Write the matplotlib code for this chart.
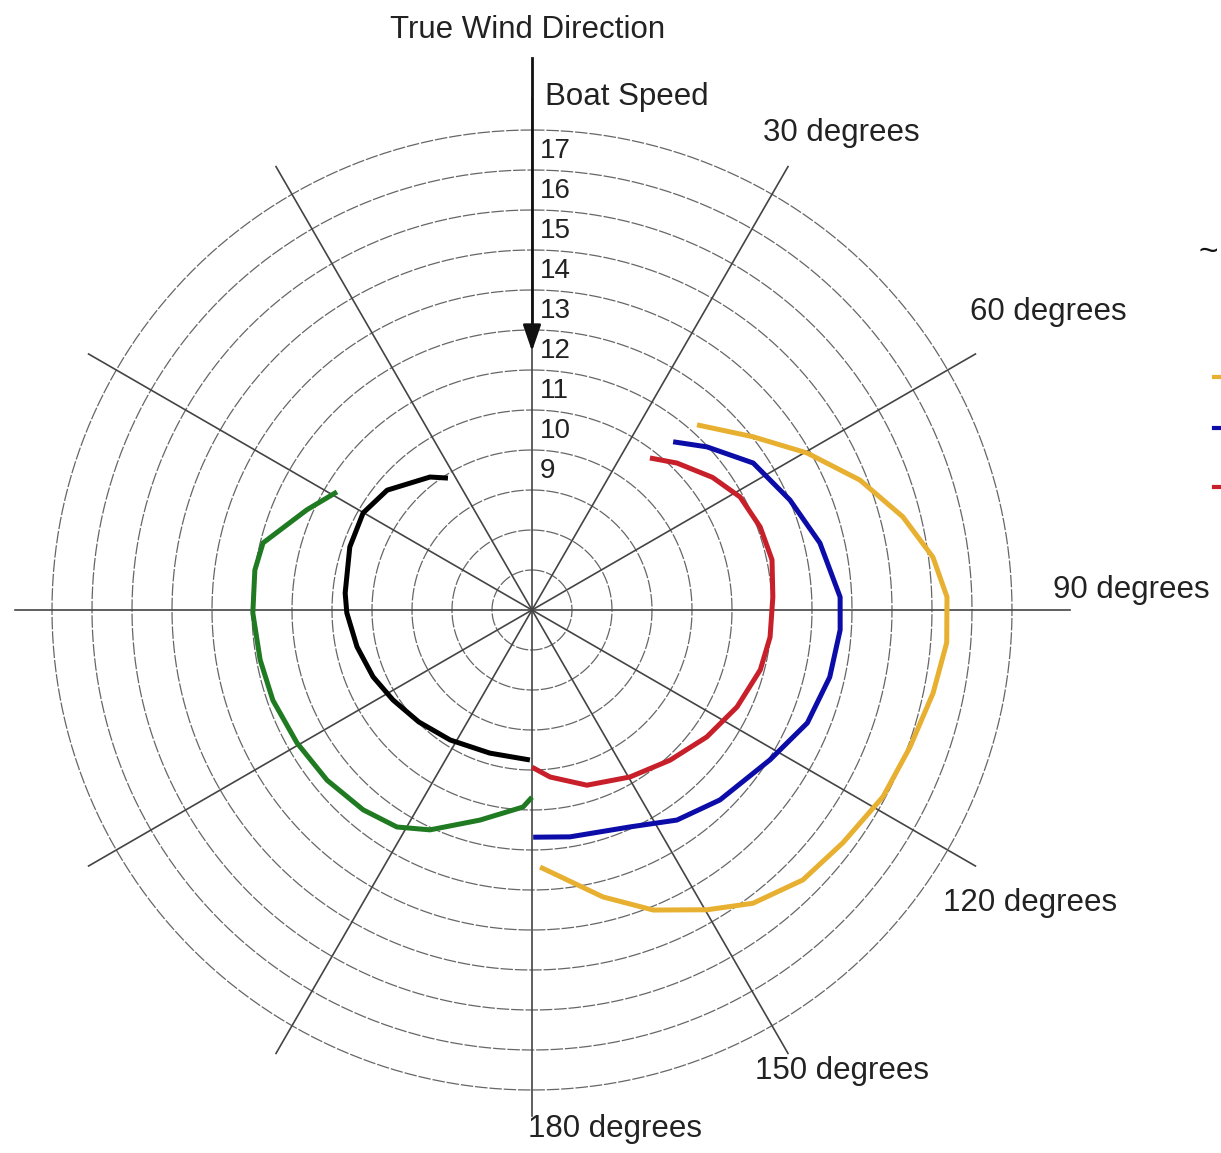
import numpy as np
import matplotlib
matplotlib.use("Agg")
import matplotlib.pyplot as plt
from matplotlib.lines import Line2D

plt.rcParams['font.family'] = ['Liberation Sans', 'DejaVu Sans']

# ---- data (angle from true wind in degrees, boat speed in knots) ----
black_theta = [327.5, 322.5, 309.6, 299.9, 289.1, 275.2, 269.1, 258.1, 247.2, 237.1, 225.3, 212.2, 196.4, 180.8]
black_speed = [8.91, 9.19, 9.70, 9.87, 9.82, 9.69, 9.63, 9.47, 9.31, 9.14, 8.98, 8.84, 8.73, 8.75]

green_theta = [301.2, 294.0, 284.0, 278.2, 269.4, 259.6, 250.8, 240.5, 230.3, 220.2, 211.9, 204.9, 193.9, 182.6, 180.0]
green_speed = [10.70, 11.16, 11.93, 12.00, 11.98, 11.91, 11.86, 11.75, 11.66, 11.54, 11.39, 11.06, 10.41, 9.93, 9.68]

red_theta = [37.8, 44.6, 53.7, 61.5, 70.0, 78.2, 86.9, 96.5, 104.7, 115.3, 126.0, 137.4, 149.6, 162.6, 173.8, 180.0]
red_speed = [9.81, 10.16, 10.60, 10.92, 11.07, 11.13, 11.03, 10.99, 10.90, 10.67, 10.40, 10.10, 9.84, 9.59, 9.20, 8.93]

blue_theta = [40.0, 47.0, 56.4, 66.9, 76.9, 87.6, 93.7, 102.7, 112.3, 122.2, 135.3, 145.4, 155.7, 170.5, 179.7]
blue_speed = [10.49, 10.98, 11.64, 12.01, 12.39, 12.71, 12.72, 12.63, 12.44, 12.03, 11.68, 11.38, 10.95, 10.75, 10.68]

orange_theta = [41.7, 51.9, 60.3, 68.4, 75.9, 82.5, 88.2, 94.5, 101.7, 110.0, 118.0, 126.8, 134.9, 143.0, 149.7, 158.0, 166.1, 178.2]
orange_speed = [11.20, 12.02, 12.92, 13.82, 14.56, 15.11, 15.38, 15.40, 15.24, 15.05, 14.94, 14.71, 14.56, 14.18, 13.68, 13.09, 12.39, 11.43]

ring_values = list(range(6, 18))
speed_labels = [9, 10, 11, 12, 13, 14, 15, 16, 17]
spoke_angles = [0, 30, 60, 90, 120, 150, 180, 210, 240, 270, 300, 330]
angle_labels = ["30 degrees", "60 degrees", "90 degrees", "120 degrees", "150 degrees", "180 degrees"]

W, H = 1221, 1153
fig = plt.figure(figsize=(W / 100, H / 100), dpi=100)
fig.patch.set_facecolor('white')

cx, cy = 532, 610
R = 512
ax = fig.add_axes([(cx - R) / W, (H - cy - R) / H, 2 * R / W, 2 * R / H], projection='polar')
ax.set_theta_zero_location('N')
ax.set_theta_direction(-1)
rmin, rmax = 5, 17.8
ax.set_ylim(rmin, rmax)
ax.spines['polar'].set_visible(False)
ax.set_xticks([])
ax.set_yticks([])
ax.grid(False)

# rings
tt = np.linspace(0, 2 * np.pi, 721)
for v in ring_values:
    ax.plot(tt, np.full_like(tt, v), color='#666666', lw=0.9, ls=(0, (10, 1.5)), zorder=1)

# spokes
spoke_len = {90: 18.45, 270: 17.93, 180: 17.65}
for a in spoke_angles:
    ax.plot([np.deg2rad(a)] * 2, [rmin, spoke_len.get(a, rmax)], color='#444444', lw=1.2,
            zorder=1, clip_on=False)

# curves
curves = [
    (black_theta, black_speed, '#000000'),
    (green_theta, green_speed, '#1f7a22'),
    (red_theta, red_speed, '#c8202a'),
    (blue_theta, blue_speed, '#0c0ca8'),
    (orange_theta, orange_speed, '#e8b030'),
]
for th, sp, c in curves:
    ax.plot(np.deg2rad(th), sp, color=c, lw=3.6, solid_capstyle='butt',
            solid_joinstyle='round', zorder=3)

# speed labels on the 0-degree axis
for v in speed_labels:
    ax.annotate(str(v), xy=(0, v - 0.52), xytext=(5.5, 0), textcoords='offset points',
                ha='left', va='center', fontsize=20, color='#222222', zorder=4)

def fx(x):
    return x / W

def fy(y):
    return 1 - y / H

# wind direction arrow
fig.add_artist(Line2D([fx(cx), fx(cx)], [fy(58), fy(330)], color='#111111', lw=2.0))
ax.annotate('', xy=(fx(cx), fy(354)), xycoords='figure fraction',
            xytext=(fx(cx), fy(322)), textcoords='figure fraction',
            arrowprops=dict(arrowstyle='-|>,head_length=1.6,head_width=0.55', color='#111111', lw=2.0))

fs = 22.5
fig.text(fx(528), fy(30), "True Wind Direction", ha='center', va='center', fontsize=fs, color='#222222')
fig.text(fx(545), fy(97), "Boat Speed", ha='left', va='center', fontsize=fs, color='#222222')

label_pos = [(763, 133), (970, 312), (1053, 590), (943, 903), (755, 1071), (528, 1129)]
for txt, (x, y) in zip(angle_labels, label_pos):
    fig.text(fx(x), fy(y), txt, ha='left', va='center', fontsize=fs, color='#222222')

# partially visible legend at the right edge
fig.text(fx(1198), fy(252), "~", ha='left', va='center', fontsize=24, color='#111111')
for y, c in [(377, '#e8b030'), (428, '#0c0ca8'), (487, '#c8202a')]:
    fig.add_artist(Line2D([fx(1214), fx(1225)], [fy(y), fy(y)], color=c, lw=3))

fig.savefig('out.png', dpi=100, facecolor='white')
